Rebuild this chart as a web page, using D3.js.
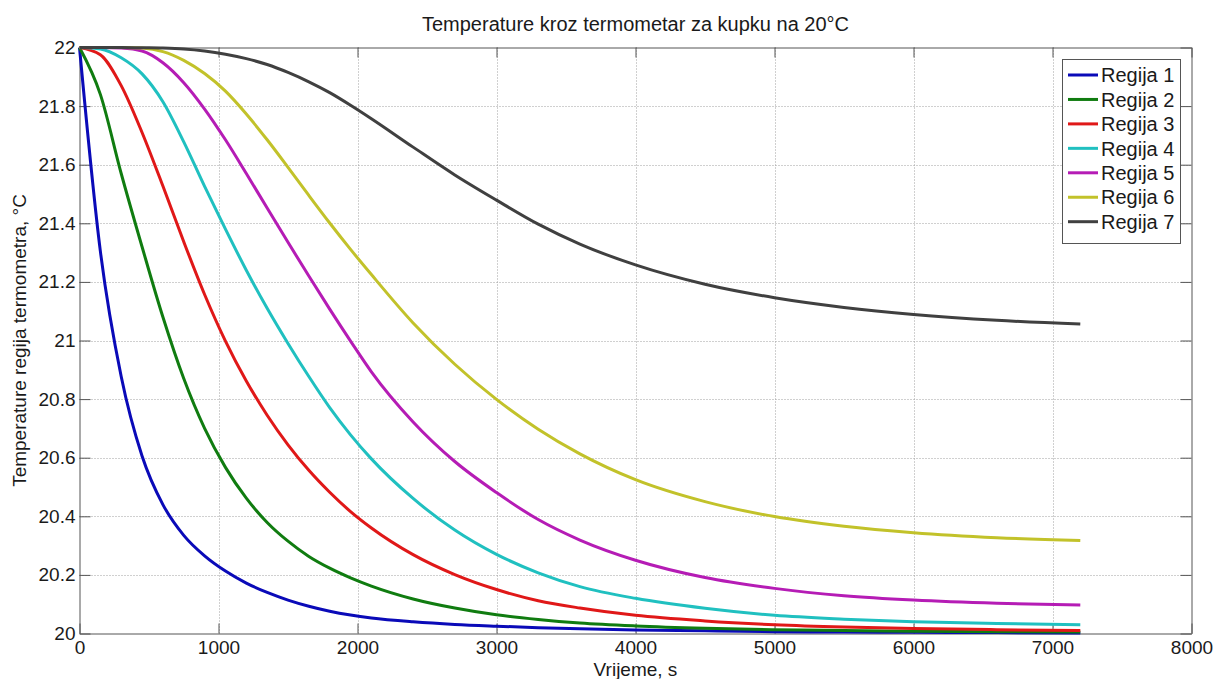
<!DOCTYPE html>
<html><head><meta charset="utf-8">
<script src="https://cdn.jsdelivr.net/npm/d3@7"></script>
<style>
body{margin:0;background:#fff}
text{font-family:Arial,"Liberation Sans",sans-serif}
</style>
</head><body>
<svg id="c" width="1216" height="679"></svg>
<script>
// ---- data (time in s, temperature in °C) ----
const times = [0,150,300,450,600,750,900,1050,1200,1350,1500,1650,1800,1950,2100,2400,2700,3000,3300,3600,4000,4500,5000,5500,6000,6600,7200];
const regija1 = [22,21.305,20.877,20.606,20.44,20.335,20.265,20.213,20.172,20.14,20.114,20.093,20.076,20.063,20.053,20.04,20.031,20.025,20.02,20.016,20.012,20.009,20.006,20.005,20.004,20.003,20.002];
const regija2 = [22,21.84,21.57,21.32,21.08,20.87,20.70,20.567,20.462,20.379,20.315,20.263,20.223,20.19,20.162,20.118,20.087,20.064,20.048,20.036,20.026,20.018,20.013,20.01,20.008,20.006,20.005];
const regija3 = [22,21.975,21.87,21.71,21.527,21.337,21.157,20.998,20.862,20.745,20.644,20.557,20.482,20.416,20.36,20.269,20.201,20.15,20.112,20.087,20.062,20.043,20.03,20.022,20.017,20.013,20.01];
const regija4 = [22,21.995,21.965,21.91,21.815,21.678,21.526,21.38,21.24,21.11,20.99,20.877,20.771,20.678,20.596,20.461,20.353,20.27,20.207,20.16,20.12,20.086,20.062,20.049,20.04,20.034,20.03];
const regija5 = [22,22,21.998,21.988,21.948,21.88,21.79,21.685,21.57,21.452,21.335,21.22,21.107,20.998,20.893,20.722,20.587,20.481,20.389,20.319,20.25,20.191,20.154,20.129,20.114,20.103,20.097];
const regija6 = [22,22,22,21.998,21.986,21.956,21.911,21.851,21.773,21.685,21.591,21.495,21.401,21.311,21.225,21.06,20.919,20.799,20.697,20.613,20.525,20.45,20.399,20.366,20.344,20.327,20.317];
const regija7 = [22,22,22,21.999,21.998,21.995,21.988,21.977,21.962,21.942,21.915,21.883,21.846,21.803,21.757,21.66,21.565,21.479,21.397,21.329,21.258,21.192,21.146,21.113,21.089,21.069,21.056];
const seriesNames = ["Regija 1","Regija 2","Regija 3","Regija 4","Regija 5","Regija 6","Regija 7"];
const seriesColors = ["#0a0ab8","#107c10","#e01818","#20c0c0","#b51cb5","#c2c22a","#404040"];
const xTickValues = [0,1000,2000,3000,4000,5000,6000,7000,8000];
const yTickValues = [20,20.2,20.4,20.6,20.8,21,21.2,21.4,21.6,21.8,22];
const titleText = "Temperature kroz termometar za kupku na 20°C";
const xLabel = "Vrijeme, s";
const yLabel = "Temperature regija termometra, °C";

const allSeries = [regija1,regija2,regija3,regija4,regija5,regija6,regija7];

const svg = d3.select("#c");
svg.append("rect").attr("width",1216).attr("height",679).attr("fill","#fff");

const L = 79.5, R = 1191.5, T = 47.5, B = 633.5;
const x = d3.scaleLinear().domain([0,8000]).range([L,R]);
const y = d3.scaleLinear().domain([20,22]).range([B,T]);

// grid
const grid = svg.append("g").attr("stroke","#a0a0a0").attr("stroke-width",1).attr("stroke-dasharray","1,2");
grid.selectAll("line.v").data(xTickValues.slice(1,-1)).join("line")
  .attr("x1",d=>Math.round(x(d))+0.5).attr("x2",d=>Math.round(x(d))+0.5).attr("y1",T).attr("y2",B);
grid.selectAll("line.h").data(yTickValues.slice(1,-1)).join("line")
  .attr("y1",d=>Math.round(y(d))+0.5).attr("y2",d=>Math.round(y(d))+0.5).attr("x1",L).attr("x2",R);

// axes (inward ticks, MATLAB box style)
const axCol = "#555";
function styleAxis(g){
  g.select(".domain").attr("stroke",axCol);
  g.selectAll(".tick line").attr("stroke",axCol);
  g.selectAll(".tick text").attr("fill","#1a1a1a").attr("font-size",19).attr("font-family","Arial, 'Liberation Sans', sans-serif");
}
const fmtY = d => String(+d.toFixed(1));
svg.append("g").attr("transform",`translate(0,${B})`)
  .call(d3.axisBottom(x).tickValues(xTickValues).tickSize(-10).tickSizeOuter(0).tickPadding(7).tickFormat(d=>String(d)))
  .call(styleAxis);
svg.append("g").attr("transform",`translate(0,${T})`)
  .call(d3.axisTop(x).tickValues(xTickValues).tickSize(-10).tickSizeOuter(0).tickFormat(""))
  .call(styleAxis);
svg.append("g").attr("transform",`translate(${L},0)`)
  .call(d3.axisLeft(y).tickValues(yTickValues).tickSize(-11).tickSizeOuter(0).tickPadding(4).tickFormat(fmtY))
  .call(styleAxis);
svg.append("g").attr("transform",`translate(${R},0)`)
  .call(d3.axisRight(y).tickValues(yTickValues).tickSize(-11).tickSizeOuter(0).tickFormat(""))
  .call(styleAxis);

// lines
const line = d3.line().x((d,i)=>x(times[i])).y(d=>y(d)).curve(d3.curveMonotoneX);
svg.append("g").selectAll("path").data(allSeries).join("path")
  .attr("d",line).attr("fill","none")
  .attr("stroke",(d,i)=>seriesColors[i]).attr("stroke-width",3)
  .attr("stroke-linejoin","round").attr("stroke-linecap","butt");

// title & labels
svg.append("text").attr("x",(L+R)/2).attr("y",31).attr("text-anchor","middle")
  .attr("font-size",20).attr("fill","#1a1a1a").text(titleText);
svg.append("text").attr("x",(L+R)/2).attr("y",676).attr("text-anchor","middle")
  .attr("font-size",19).attr("fill","#1a1a1a").text(xLabel);
svg.append("text").attr("transform",`translate(26,${(T+B)/2}) rotate(-90)`).attr("text-anchor","middle")
  .attr("font-size",19).attr("fill","#1a1a1a").text(yLabel);

// legend
const lg = svg.append("g");
lg.append("rect").attr("x",1062.5).attr("y",59.5).attr("width",118).attr("height",184)
  .attr("fill","#fff").attr("stroke",axCol).attr("stroke-width",1);
const rows = lg.selectAll("g.row").data(seriesNames).join("g")
  .attr("transform",(d,i)=>`translate(0,${75+i*24.45})`);
rows.append("line").attr("x1",1068).attr("x2",1098).attr("y1",0).attr("y2",0)
  .attr("stroke",(d,i)=>seriesColors[i]).attr("stroke-width",3);
rows.append("text").attr("x",1101).attr("y",0).attr("dy","0.36em")
  .attr("font-size",20).attr("fill","#1a1a1a").text(d=>d);
</script>
</body></html>
